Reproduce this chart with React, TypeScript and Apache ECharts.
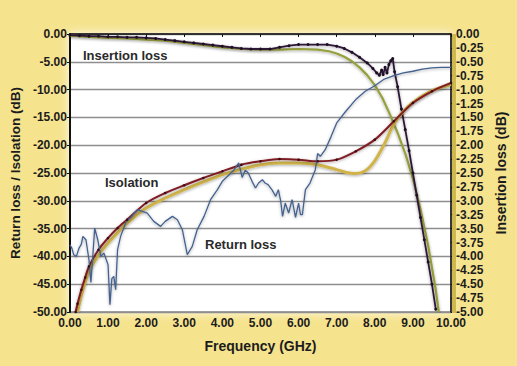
import React, { useEffect, useRef } from "react";
import * as echarts from "echarts";

// ---------- data ----------
const insFreq = [0, 0.25, 0.5, 0.75, 1, 1.25, 1.5, 1.75, 2, 2.25, 2.5, 2.75, 3, 3.25, 3.5, 3.75, 4, 4.25, 4.5, 4.75, 5, 5.25, 5.5, 5.75, 6, 6.25, 6.5, 6.75, 7, 7.2, 7.4, 7.6, 7.8, 7.95, 8.05, 8.12, 8.18, 8.22, 8.27, 8.32, 8.37, 8.42, 8.47, 8.52, 8.6, 8.7, 8.8, 8.9, 9.0, 9.1, 9.2, 9.3, 9.4, 9.5, 9.6];
const insLoss = [-0.02, -0.03, -0.04, -0.04, -0.05, -0.05, -0.06, -0.06, -0.07, -0.08, -0.1, -0.12, -0.14, -0.16, -0.18, -0.2, -0.22, -0.24, -0.26, -0.27, -0.27, -0.27, -0.24, -0.21, -0.19, -0.19, -0.19, -0.19, -0.22, -0.26, -0.33, -0.42, -0.52, -0.62, -0.7, -0.74, -0.65, -0.73, -0.6, -0.7, -0.55, -0.48, -0.44, -0.68, -0.95, -1.35, -1.72, -2.1, -2.5, -2.9, -3.3, -3.7, -4.1, -4.5, -4.95];

const olvFreq = [0, 0.5, 1, 1.5, 2, 2.5, 3, 3.5, 4, 4.5, 5, 5.5, 6, 6.5, 6.8, 7.0, 7.2, 7.4, 7.6, 7.8, 8.0, 8.2, 8.4, 8.6, 8.8, 9.0, 9.2, 9.4, 9.6, 9.68];
const olvLoss = [-0.03, -0.05, -0.07, -0.08, -0.1, -0.12, -0.16, -0.2, -0.24, -0.27, -0.28, -0.28, -0.27, -0.28, -0.31, -0.35, -0.41, -0.49, -0.6, -0.74, -0.92, -1.15, -1.45, -1.78, -2.15, -2.6, -3.15, -3.8, -4.6, -5.0];

const isoFreq = [0.15, 0.2, 0.3, 0.4, 0.5, 0.75, 1, 1.25, 1.5, 2, 2.5, 3, 3.5, 4, 4.5, 5, 5.5, 6, 6.5, 7, 7.5, 8, 8.5, 9, 9.5, 10];
const isoVal = [-50, -48.5, -46, -43.8, -41.8, -38.8, -36.7, -34.9, -33.4, -30.4, -28.6, -27.2, -25.9, -24.7, -23.5, -22.9, -22.5, -22.6, -22.9, -22.6, -21.1, -19.0, -15.7, -12.4, -10.3, -8.8];

const tanFreq = [0.2, 0.3, 0.5, 0.75, 1, 1.5, 2, 2.5, 3, 3.5, 4, 4.5, 5, 5.5, 6, 6.5, 7, 7.25, 7.5, 7.75, 8, 8.25, 8.5, 8.75, 9, 9.5, 10];
const tanVal = [-50, -47, -42.7, -39.8, -37.6, -34, -31.3, -29.5, -28, -26.6, -25.3, -24.3, -23.5, -23.2, -23.2, -23.5, -24.4, -24.9, -25.1, -24.6, -22.8, -19.8, -16.2, -13.9, -12.3, -10.2, -9.1];

const rlFreq = [0, 0.05, 0.1, 0.17, 0.24, 0.3, 0.34, 0.42, 0.5, 0.55, 0.6, 0.65, 0.73, 0.81, 0.89, 0.95, 1.0, 1.05, 1.1, 1.15, 1.2, 1.25, 1.33, 1.47, 1.6, 1.77, 2.03, 2.2, 2.38, 2.5, 2.69, 2.82, 2.95, 3.08, 3.21, 3.34, 3.52, 3.69, 3.87, 4.0, 4.15, 4.3, 4.43, 4.52, 4.6, 4.68, 4.78, 4.87, 4.95, 5.05, 5.12, 5.2, 5.3, 5.4, 5.47, 5.53, 5.58, 5.65, 5.74, 5.83, 5.92, 6.0, 6.05, 6.1, 6.18, 6.3, 6.44, 6.5, 6.57, 6.7, 6.85, 7.0, 7.25, 7.5, 7.75, 8.0, 8.25, 8.5, 8.75, 9.0, 9.25, 9.5, 9.75, 10];
const rlVal = [-37.9, -38.5, -39.7, -40, -38.5, -37.8, -36.4, -37, -40.6, -44.7, -40, -34.9, -37, -40, -39.4, -40.5, -41.5, -48.7, -44, -43.6, -46, -38.8, -36.4, -33.8, -33, -31.6, -32.2, -33.7, -34.6, -33.7, -32.8, -33.4, -35.2, -39.7, -38.2, -35.2, -32.8, -29.8, -28, -26.5, -25.5, -24.5, -23.2, -25.8, -24.5, -25, -26.5, -27.7, -26.8, -26.2, -26.8, -27.1, -28, -29.2, -28, -30, -32.8, -30.4, -32.2, -29.8, -33, -30.4, -32.5, -32.5, -28, -26.8, -24.4, -21.5, -22, -20.8, -18.5, -16, -13.8, -11.8, -10.3, -9.3, -8.1, -7.5, -7.0, -6.7, -6.3, -6.1, -6.0, -6.0];

const annotations = ["Insertion loss", "Isolation", "Return loss"];

const pairs = (xs: number[], ys: number[]) => xs.map((x, i) => [x, ys[i]]);

const FONT = "'Liberation Sans', Arial, sans-serif";
const shadow = { shadowBlur: 3, shadowColor: "rgba(0,0,0,0.35)", shadowOffsetY: 1 };

export default function App() {
  const ref = useRef<HTMLDivElement>(null);
  useEffect(() => {
    if (!ref.current) return;
    const chart = echarts.init(ref.current, null, { renderer: "svg" });
    const labelStyle = { fontSize: 12, fontWeight: "bold" as const, color: "#1c1c1c", fontFamily: FONT };
    chart.setOption({
      animation: false,
      backgroundColor: "#f5e38e",
      grid: {
        left: 69, right: 66, top: 34, bottom: 54,
        show: true, backgroundColor: "#ffffff", borderColor: "#444", borderWidth: 1,
        shadowBlur: 10, shadowColor: "rgba(255,255,255,0.95)",
      },
      xAxis: {
        type: "value", min: 0, max: 10, interval: 1,
        name: "Frequency (GHz)", nameLocation: "middle", nameGap: 27,
        nameTextStyle: { fontSize: 14, fontWeight: "bold", color: "#1c1c1c", fontFamily: FONT },
        axisLine: { show: true, lineStyle: { color: "#111", width: 1.5 } },
        axisTick: { show: true, length: 3, lineStyle: { color: "#111" } },
        axisLabel: { ...labelStyle, margin: 5, formatter: (v: number) => v.toFixed(2) },
        splitLine: { show: false },
      },
      yAxis: [
        {
          type: "value", min: -50, max: 0, interval: 5, position: "left",
          name: "Return loss / Isolation (dB)", nameLocation: "middle", nameGap: 45, nameRotate: 90,
          nameTextStyle: { fontSize: 13.5, fontWeight: "bold", color: "#1c1c1c", fontFamily: FONT },
          axisLine: { show: true, lineStyle: { color: "#111", width: 2 } },
          axisTick: { show: true, length: 3, lineStyle: { color: "#111" } },
          axisLabel: { ...labelStyle, margin: 3, formatter: (v: number) => (v === 0 ? "0.00" : v.toFixed(2)) },
          splitLine: { show: true, lineStyle: { color: "#8e8e8e", width: 1.3 } },
        },
        {
          type: "value", min: -5, max: 0, interval: 0.25, position: "right",
          name: "Insertion loss (dB)", nameLocation: "middle", nameGap: 39, nameRotate: 90,
          nameTextStyle: { fontSize: 14, fontWeight: "bold", color: "#1c1c1c", fontFamily: FONT },
          axisLine: { show: true, lineStyle: { color: "#111", width: 1.5 } },
          axisTick: { show: true, length: 3, lineStyle: { color: "#111" } },
          axisLabel: { ...labelStyle, margin: 5, formatter: (v: number) => (v === 0 ? "0.00" : v.toFixed(2)) },
          splitLine: { show: false },
        },
      ],
      graphic: [
        { type: "rect", left: 452, top: 34, shape: { width: 4, height: 279 }, style: { fill: "#cdb94e" }, z: 1 },
        { type: "text", left: 83, top: 49, style: { text: annotations[0], fontSize: 13, fontWeight: "bold", fill: "#2a2a2a", fontFamily: FONT }, z: 10 },
        { type: "text", left: 105, top: 176, style: { text: annotations[1], fontSize: 13, fontWeight: "bold", fill: "#2a2a2a", fontFamily: FONT }, z: 10 },
        { type: "text", left: 205, top: 238, style: { text: annotations[2], fontSize: 13, fontWeight: "bold", fill: "#2a2a2a", fontFamily: FONT }, z: 10 },
      ],
      series: [
        {
          name: "Insertion loss 2", type: "line", yAxisIndex: 1, data: pairs(olvFreq, olvLoss),
          showSymbol: false, lineStyle: { color: "#96a03c", width: 2.2, ...shadow },
        },
        {
          name: "Insertion loss", type: "line", yAxisIndex: 1, data: pairs(insFreq, insLoss),
          symbol: "circle", symbolSize: 3, showSymbol: true, showAllSymbol: true,
          itemStyle: { color: "#1e1024" },
          lineStyle: { color: "#2e1838", width: 1.8, ...shadow },
        },
        {
          name: "Isolation 2", type: "line", yAxisIndex: 0, data: pairs(tanFreq, tanVal),
          showSymbol: false, smooth: 0.3, lineStyle: { color: "#d0b448", width: 3, ...shadow },
        },
        {
          name: "Isolation", type: "line", yAxisIndex: 0, data: pairs(isoFreq, isoVal),
          symbol: "circle", symbolSize: 2.5, showSymbol: true, showAllSymbol: true, smooth: 0.3,
          itemStyle: { color: "#3a0a12" },
          lineStyle: { color: "#7e1c24", width: 2, ...shadow },
        },
        {
          name: "Return loss", type: "line", yAxisIndex: 0, data: pairs(rlFreq, rlVal),
          showSymbol: false, lineStyle: { color: "#45628f", width: 1.3, ...shadow },
        },
      ],
    });
    return () => chart.dispose();
  }, []);
  return <div ref={ref} style={{ position: "fixed", left: 0, top: 0, width: 517, height: 366 }} />;
}
